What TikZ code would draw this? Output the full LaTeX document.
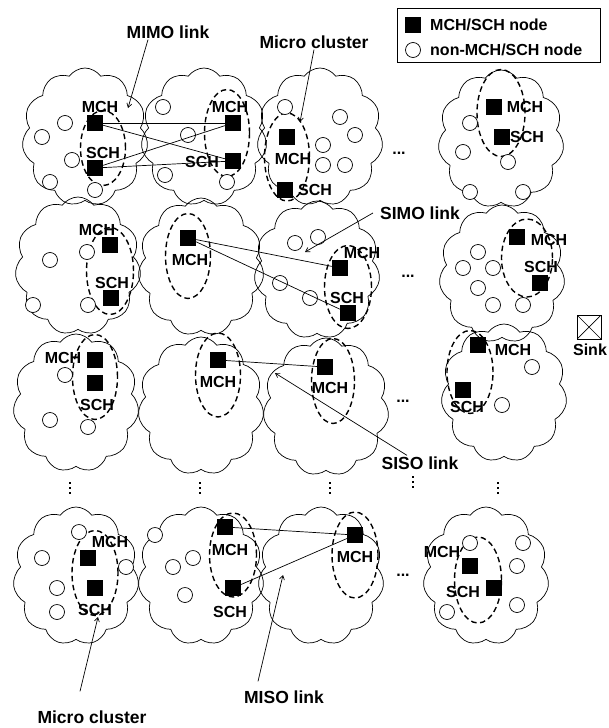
\documentclass[tikz,border=0pt]{standalone}
\usepackage{fontspec}
\setmainfont{Liberation Sans}
\usetikzlibrary{shapes.symbols,shapes.geometric,arrows.meta}
\tikzset{
  cl/.style={draw, cloud, cloud puffs=11, cloud puff arc=110, aspect=0.9,
    minimum width=126pt, minimum height=138pt, inner sep=0pt, line width=0.7pt},
  mc/.style={draw, ellipse, line width=1.4pt, dash pattern=on 5.5pt off 3.5pt, inner sep=0pt},
  hd/.style={fill=black, minimum size=16pt, inner sep=0pt},
  nd/.style={draw, circle, minimum size=15pt, inner sep=0pt, line width=0.7pt},
  tg/.style={font=\fontsize{16}{16}\selectfont\bfseries, inner sep=0pt},
  lbl/.style={font=\fontsize{17.5}{18}\selectfont\bfseries, inner sep=1pt},
  lnk/.style={line width=0.7pt},
  ptr/.style={-{Straight Barb[length=4pt,width=5pt]}, line width=0.7pt},
}
\begin{document}
\begin{tikzpicture}[x=1pt, y=-1pt]
\useasboundingbox (0,0) rectangle (608,728);

%% Clouds (macro clusters)
\foreach \n/\x/\y in {A1/85/137, B1/204/137, C1/320/137, D1/501/139,
    A2/78/266, B2/201/267, C2/317/270, D2/502/274,
    A3/76/403, B3/201/406, C3/326/407, D3/504/393,
    A4/76/576, B4/201/576, C4/321/576, D4/486/576}
  \node[cl] (cl\n) at (\x,\y) {};

%% Micro clusters
\foreach \n/\x/\y/\w/\h in {A1/103/148/45/75, B1/227/133/45/87, C1/287/157/45/88, D1/501/113/48/87,
    A2/110/271/47/87, B2/188/256/45/85, C2/348/287/47/83, D2/527/258/51/78,
    A3/95/377/45/85, B3/218/375/45/84, C3/333/381/43/85, D3/470/372/46/83,
    A4/95/573/46/85, B4/233/555/47/84, C4/355/555/46/86, D4/478/580/47/86}
  \node[mc, minimum width=\w, minimum height=\h] (mc\n) at (\x,\y) {};

%% Non-MCH/SCH nodes
\foreach \x/\y [count=\i] in {65/123, 42/137, 72/160, 50/182, 95/190,
    163/107, 188/135, 165/175, 227/182,
    285/107, 340/117, 355/135, 323/145, 323/165, 345/165,
    470/123, 463/152, 508/162, 470/192, 523/192,
    87/252, 50/260, 33/305, 88/305,
    295/243, 318/237, 280/283, 310/298,
    478/252, 463/268, 493/268, 478/288, 493/305, 523/305,
    65/375, 50/420, 88/427,
    532/367, 502/405,
    79/532, 42/558, 126/567, 57/588, 57/612,
    155/535, 193/558, 173/567, 185/595,
    470/543, 523/543, 517/566, 447/612, 517/605}
  \node[nd, fill=white] (o\i) at (\x,\y) {};

%% MCH/SCH nodes
\node[hd] (a1m) at (95,123) {};
\node[hd] (a1s) at (95,168) {};
\node[hd] (b1m) at (233,123) {};
\node[hd] (b1s) at (233,161) {};
\node[hd] (c1m) at (287,137) {};
\node[hd] (c1s) at (285,190) {};
\node[hd] (d1m) at (494,107) {};
\node[hd] (d1s) at (502,137) {};
\node[hd] (a2m) at (110,245) {};
\node[hd] (a2s) at (111,298) {};
\node[hd] (b2m) at (188,238) {};
\node[hd] (c2m) at (340,268) {};
\node[hd] (c2s) at (348,313) {};
\node[hd] (d2m) at (517,237) {};
\node[hd] (d2s) at (540,283) {};
\node[hd] (a3m) at (95,360) {};
\node[hd] (a3s) at (95,383) {};
\node[hd] (b3m) at (218,360) {};
\node[hd] (c3m) at (325,367) {};
\node[hd] (d3m) at (478,345) {};
\node[hd] (d3s) at (463,390) {};
\node[hd] (a4m) at (88,558) {};
\node[hd] (a4s) at (95,588) {};
\node[hd] (b4m) at (225,527) {};
\node[hd] (b4s) at (233,588) {};
\node[hd] (c4m) at (355,535) {};
\node[hd] (d4m) at (470,566) {};
\node[hd] (d4s) at (494,588) {};

%% Tags
\foreach \t/\x/\y [count=\i] in {MCH/100/107, SCH/103/153, MCH/230/107, SCH/202/162,
    MCH/293/159, SCH/315/190, MCH/525/107, SCH/527/137,
    MCH/97/230, SCH/112/283, MCH/190/260, MCH/362/253, SCH/347/298,
    MCH/549/240, SCH/541/267,
    MCH/63/358, SCH/97/405, MCH/218/382, MCH/330/388, MCH/513/350, SCH/467/407,
    MCH/110/542, SCH/95/610, MCH/230/550, SCH/230/612, MCH/355/557,
    MCH/442/552, SCH/463/592}
  \node[tg] (t\i) at (\x,\y) {\t};

%% Links
\draw[lnk] (a1m) -- (b1m);
\draw[lnk] (a1m) -- (b1s);
\draw[lnk] (a1s) -- (b1m);
\draw[lnk] (a1s) -- (b1s);
\draw[lnk] (b2m) -- (c2m);
\draw[lnk] (b2m) -- (c2s);
\draw[lnk] (b3m) -- (c3m);
\draw[lnk] (b4m) -- (c4m);
\draw[lnk] (b4s) -- (c4m);

%% Continuation dots
\foreach \x/\y [count=\i] in {399/153, 408/276, 403/401, 403/575}
  \node[tg] (h\i) at (\x,\y) {...};
\foreach \x/\y in {70/488, 200/488, 330/488, 413/482, 498/488}
  \foreach \d in {-5,0,5}
    \fill (\x-1.2,\y+\d-1.2) rectangle ++(2.4,2.4);

%% Pointers
\node[lbl] (mimo) at (168,32) {MIMO link};
\node[lbl] (mctop) at (314,42) {Micro cluster};
\node[lbl] (simo) at (420,213) {SIMO link};
\node[lbl] (siso) at (420,463) {SISO link};
\node[lbl] (miso) at (284,697) {MISO link};
\node[lbl] (mcbot) at (92,717) {Micro cluster};
\coordinate (pMimo) at (128,108);
\coordinate (pMctop) at (300,122);
\coordinate (pSimo) at (305,252);
\coordinate (pSiso) at (275,373);
\coordinate (pMiso) at (283,575);
\coordinate (pMcbot) at (98,617);
\draw[ptr] ([xshift=-20pt]mimo.south) -- (pMimo);
\draw[ptr] (mctop.south) -- (pMctop);
\draw[ptr] ([xshift=-6pt]simo.west) -- (pSimo);
\draw[ptr] ([xshift=-13pt]siso.north) -- (pSiso);
\draw[ptr] ([shift={(-26,-8)}]miso.north) -- (pMiso);
\draw[ptr] ([shift={(-12,-18)}]mcbot.north) -- (pMcbot);

%% Legend
\node[draw, line width=0.7pt, minimum width=203pt, minimum height=54pt] (leg) at (498.5,35) {};
\node[hd] (legh) at (413,25) {};
\node[nd] (lego) at (413,50) {};
\node[tg, anchor=west] (leght) at (430,25) {MCH/SCH node};
\node[tg, anchor=west] (legot) at (430,50) {non-MCH/SCH node};

%% Sink
\node[draw, line width=0.7pt, minimum size=24pt, inner sep=0pt,
  path picture={\draw (path picture bounding box.south west) -- (path picture bounding box.north east)
    (path picture bounding box.north west) -- (path picture bounding box.south east);}] (sink) at (589,327) {};
\node[tg] (sinkt) at (590,350) {Sink};
\end{tikzpicture}
\end{document}
